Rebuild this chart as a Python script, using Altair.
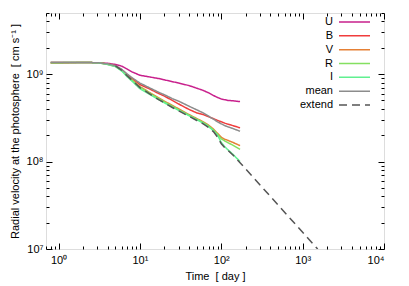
import altair as alt
import pandas as pd

FONT = "Liberation Sans"

# ---------------- data ----------------
t = [0.8, 1, 1.5, 2, 3, 4, 5, 6, 7, 8, 10, 13, 17, 20, 25, 30, 40, 50, 60, 70,
     80, 90, 100, 110, 120, 140, 170]
U = [1.36, 1.36, 1.36, 1.36, 1.35, 1.33, 1.29, 1.23, 1.14, 1.06, 0.97, 0.93, 0.89,
     0.86, 0.82, 0.79, 0.74, 0.69, 0.65, 0.61, 0.57, 0.54, 0.52, 0.51, 0.50, 0.495, 0.485]
B = [1.36, 1.36, 1.36, 1.36, 1.35, 1.31, 1.25, 1.12, 0.98, 0.89, 0.76, 0.68, 0.60,
     0.56, 0.50, 0.455, 0.395, 0.36, 0.345, 0.325, 0.31, 0.295, 0.285, 0.275, 0.268, 0.257, 0.243]
V = [1.33, 1.33, 1.35, 1.36, 1.35, 1.30, 1.23, 1.10, 0.96, 0.86, 0.72, 0.62, 0.535,
     0.49, 0.44, 0.40, 0.345, 0.31, 0.285, 0.26, 0.235, 0.21, 0.19, 0.18, 0.175, 0.165, 0.152]
R = [1.35, 1.35, 1.36, 1.36, 1.35, 1.30, 1.23, 1.10, 0.95, 0.85, 0.71, 0.61, 0.525,
     0.48, 0.43, 0.39, 0.34, 0.305, 0.28, 0.255, 0.23, 0.205, 0.182, 0.172, 0.165, 0.153, 0.138]
I = [1.36, 1.36, 1.36, 1.36, 1.35, 1.29, 1.22, 1.08, 0.93, 0.83, 0.68, 0.59, 0.51,
     0.47, 0.42, 0.385, 0.335, 0.30, 0.275, 0.25, 0.225, 0.20, 0.165, 0.148, 0.137, 0.12, 0.10]
MEAN = [1.36, 1.36, 1.36, 1.36, 1.35, 1.31, 1.25, 1.13, 1.00, 0.91, 0.79, 0.70, 0.62,
        0.58, 0.525, 0.49, 0.43, 0.39, 0.36, 0.33, 0.305, 0.285, 0.27, 0.258, 0.25, 0.238, 0.222]
t_ext = [5, 6, 7, 8, 10, 13, 17, 20, 25, 30, 40, 50, 60, 70, 80, 90, 100, 110, 120,
         140, 170, 1530]
EXT = [1.24, 1.10, 0.95, 0.85, 0.70, 0.60, 0.51, 0.47, 0.415, 0.38, 0.33, 0.295, 0.27,
       0.245, 0.22, 0.19, 0.16, 0.145, 0.135, 0.118, 0.097, 0.01]

bands = ["U", "B", "V", "R", "I", "mean", "extend"]
colors = ["#c8208c", "#f03c3c", "#e58035", "#84e060", "#60f090", "#8c8c8c", "#555555"]
dashes = [[1, 0], [1, 0], [1, 0], [1, 0], [1, 0], [1, 0], [8, 5]]

rows = []
for name, vals in zip(bands[:-1], [U, B, V, R, I, MEAN]):
    for i, (tt, vv) in enumerate(zip(t, vals)):
        rows.append({"band": name, "t": tt, "v": vv * 1e9, "i": i})
for i, (tt, vv) in enumerate(zip(t_ext, EXT)):
    rows.append({"band": "extend", "t": tt, "v": vv * 1e9, "i": i})
df = pd.DataFrame(rows)

leg = pd.DataFrame({"band": bands, "row": list(range(len(bands)))})

# ---------------- scales ----------------
XD = [0.7, 10000]
YD = [1e7, 5e9]
xs = alt.Scale(type="log", domain=XD, nice=False)
ys = alt.Scale(type="log", domain=YD, nice=False)
cscale = alt.Scale(domain=bands, range=colors)
dscale = alt.Scale(domain=bands, range=dashes)

sup = "['\u2070','\u00b9','\u00b2','\u00b3','\u2074','\u2075','\u2076','\u2077','\u2078','\u2079']"
lab_expr = "'10' + " + sup + "[round(log(datum.value)/LN10)]"

x_major = [1, 10, 100, 1000, 10000]
x_minor = [m * 10 ** e for e in range(-1, 4) for m in range(2, 10)
           if XD[0] <= m * 10 ** e <= XD[1]]
y_major = [1e7, 1e8, 1e9]
y_minor = [m * 10 ** e for e in range(7, 10) for m in range(2, 10)
           if YD[0] <= m * 10 ** e <= YD[1]]

lines = alt.Chart(df).mark_line(strokeWidth=1.5, clip=True).encode(
    x=alt.X("t:Q", scale=xs, axis=None),
    y=alt.Y("v:Q", scale=ys, axis=None),
    color=alt.Color("band:N", scale=cscale, legend=None),
    strokeDash=alt.StrokeDash("band:N", scale=dscale, legend=None),
    order=alt.Order("i:Q"),
)


def tick_axis(orient, values, size):
    return alt.Axis(orient=orient, values=values, labels=False, domain=False,
                    grid=False, ticks=True, tickSize=size, offset=-size,
                    tickColor="black", tickWidth=1, title=None)


def dummy(xaxis=None, yaxis=None):
    enc = {}
    if xaxis is not None:
        enc["x"] = alt.X("t:Q", scale=xs, axis=xaxis)
    else:
        enc["x"] = alt.X("t:Q", scale=xs, axis=None)
    if yaxis is not None:
        enc["y"] = alt.Y("v:Q", scale=ys, axis=yaxis)
    else:
        enc["y"] = alt.Y("v:Q", scale=ys, axis=None)
    return alt.Chart(df).mark_point(opacity=0, size=1).encode(**enc)


label_style = dict(labelFont=FONT, labelFontSize=11, labelColor="black",
                   titleFont=FONT, titleFontSize=11, titleFontWeight="normal",
                   titleColor="black", ticks=False, tickSize=0, domain=False,
                   grid=False)

x_lab = dummy(xaxis=alt.Axis(orient="bottom", values=x_major, labelExpr=lab_expr,
                             labelPadding=5, title="Time\u00a0 [ day ]",
                             titlePadding=5, **label_style))
y_lab = dummy(yaxis=alt.Axis(orient="left", values=y_major, labelExpr=lab_expr,
                             labelPadding=3,
                             title="Radial velocity at the photosphere\u00a0 [ cm s\u207b\u00b9 ]",
                             titlePadding=6, **label_style))

tick_layers = [
    dummy(xaxis=tick_axis("bottom", x_major, 6)),
    dummy(xaxis=tick_axis("bottom", x_minor, 3)),
    dummy(xaxis=tick_axis("top", x_major, 6)),
    dummy(xaxis=tick_axis("top", x_minor, 3)),
    dummy(yaxis=tick_axis("left", y_major, 6)),
    dummy(yaxis=tick_axis("left", y_minor, 3)),
    dummy(yaxis=tick_axis("right", y_major, 6)),
    dummy(yaxis=tick_axis("right", y_minor, 3)),
]

legy = alt.Y("row:O", scale=alt.Scale(type="point", domain=list(range(len(bands))),
                                      range=[9, 92], padding=0),
             axis=None)
leg_text = alt.Chart(leg).mark_text(align="right", baseline="middle", font=FONT,
                                    fontSize=11, color="black").encode(
    x=alt.value(287), y=legy, text="band:N")
leg_rule = alt.Chart(leg).mark_rule(strokeWidth=1.5).encode(
    x=alt.value(293), x2=alt.value(324), y=legy,
    color=alt.Color("band:N", scale=cscale, legend=None),
    strokeDash=alt.StrokeDash("band:N", scale=dscale, legend=None),
)

chart = alt.layer(lines, x_lab, y_lab, *tick_layers, leg_rule, leg_text).resolve_scale(
    x="independent", y="independent"
).resolve_axis(x="independent", y="independent").properties(
    width=338, height=236,
    autosize=alt.AutoSizeParams(type="none"),
    padding={"left": 38, "top": 5, "right": 17, "bottom": 37},
).configure_view(stroke="black", strokeWidth=1).configure(background="white")

chart.save("out.html", embed_options={"renderer": "svg", "actions": False})
